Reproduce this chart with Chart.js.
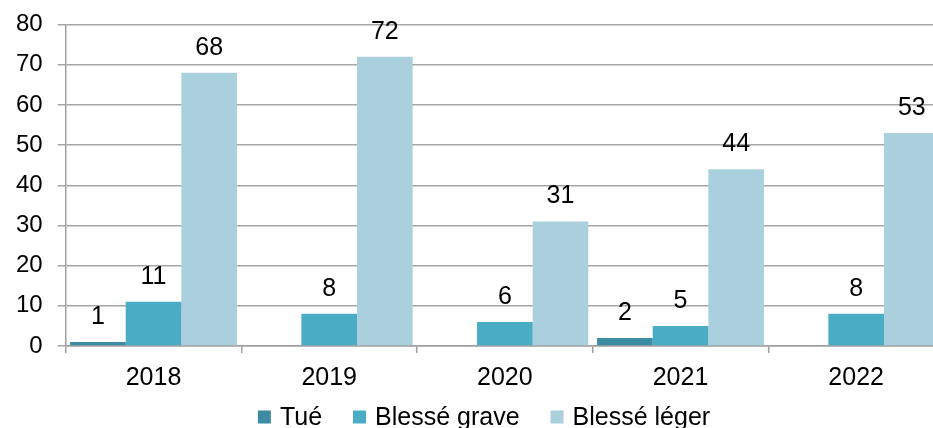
<!DOCTYPE html>
<html>
<head>
<meta charset="utf-8">
<script src="https://cdn.jsdelivr.net/npm/chart.js@4.4.1/dist/chart.umd.min.js"></script>
<style>
  html, body { margin: 0; padding: 0; overflow: hidden; background: #fff; }
  #wrap { width: 944px; height: 428px; }
</style>
</head>
<body>
<div id="wrap"><canvas id="myChart" width="944" height="428"></canvas></div>
<script>
const years = ['2018', '2019', '2020', '2021', '2022'];
const tue = [1, 0, 0, 2, 0];
const blesseGrave = [11, 8, 6, 5, 8];
const blesseLeger = [68, 72, 31, 44, 53];
const yTicks = [0, 10, 20, 30, 40, 50, 60, 70, 80];

const FONT = 'Liberation Sans, Arial, sans-serif';

// labels over the bars, zero values are left out
const valueLabels = {
  id: 'valueLabels',
  afterDatasetsDraw(chart) {
    const ctx = chart.ctx;
    ctx.save();
    ctx.font = '25px ' + FONT;
    ctx.fillStyle = '#000';
    ctx.textAlign = 'center';
    ctx.textBaseline = 'alphabetic';
    chart.data.datasets.forEach((ds, i) => {
      chart.getDatasetMeta(i).data.forEach((bar, j) => {
        const v = ds.data[j];
        if (!v) return;
        ctx.fillText(String(v), bar.x, bar.y - 18);
      });
    });
    ctx.restore();
  }
};

// legend drawn by hand so it sits where the original puts it
const bottomLegend = {
  id: 'bottomLegend',
  afterDraw(chart) {
    const ctx = chart.ctx;
    ctx.save();
    ctx.font = '25px ' + FONT;
    const box = 13, gap = 9, spacing = 31;
    const items = chart.data.datasets.map(ds => ({
      text: ds.label, color: ds.backgroundColor,
      w: box + gap + ctx.measureText(ds.label).width
    }));
    const total = items.reduce((s, it) => s + it.w, 0) + spacing * (items.length - 1);
    let x = 484 - total / 2;
    const cy = 417;
    items.forEach(it => {
      ctx.fillStyle = it.color;
      ctx.fillRect(x, cy - box / 2, box, box);
      ctx.fillStyle = '#000';
      ctx.textAlign = 'left';
      ctx.textBaseline = 'middle';
      ctx.fillText(it.text, x + box + gap, cy + 1);
      x += it.w + spacing;
    });
    ctx.restore();
  }
};

new Chart(document.getElementById('myChart'), {
  type: 'bar',
  data: {
    labels: years,
    datasets: [
      { label: 'Tué', data: tue, backgroundColor: '#3D8CA3' },
      { label: 'Blessé grave', data: blesseGrave, backgroundColor: '#4BACC6' },
      { label: 'Blessé léger', data: blesseLeger, backgroundColor: '#AACFDD' }
    ]
  },
  options: {
    responsive: false,
    animation: false,
    layout: { padding: { top: 0, left: 1, right: 0, bottom: 25 } },
    datasets: { bar: { categoryPercentage: 0.95, barPercentage: 1.0 } },
    plugins: {
      legend: { display: false },
      tooltip: { enabled: false }
    },
    scales: {
      x: {
        grid: { drawOnChartArea: false, drawTicks: true, tickLength: 7, color: '#A0A0A0', lineWidth: 1.5 },
        border: { color: '#A0A0A0', width: 1.5 },
        ticks: { color: '#000', font: { family: FONT, size: 25 }, padding: 10 }
      },
      y: {
        min: 0,
        max: 80,
        afterBuildTicks(scale) { scale.ticks = yTicks.map(v => ({ value: v })); },
        afterFit(scale) { scale.paddingTop = 24.5; },
        grid: { color: '#A6A6A6', lineWidth: 1.5, tickLength: 8 },
        border: { color: '#A0A0A0', width: 1.5 },
        ticks: { color: '#000', font: { family: FONT, size: 24 }, padding: 15 }
      }
    }
  },
  plugins: [valueLabels, bottomLegend]
});
</script>
</body>
</html>
